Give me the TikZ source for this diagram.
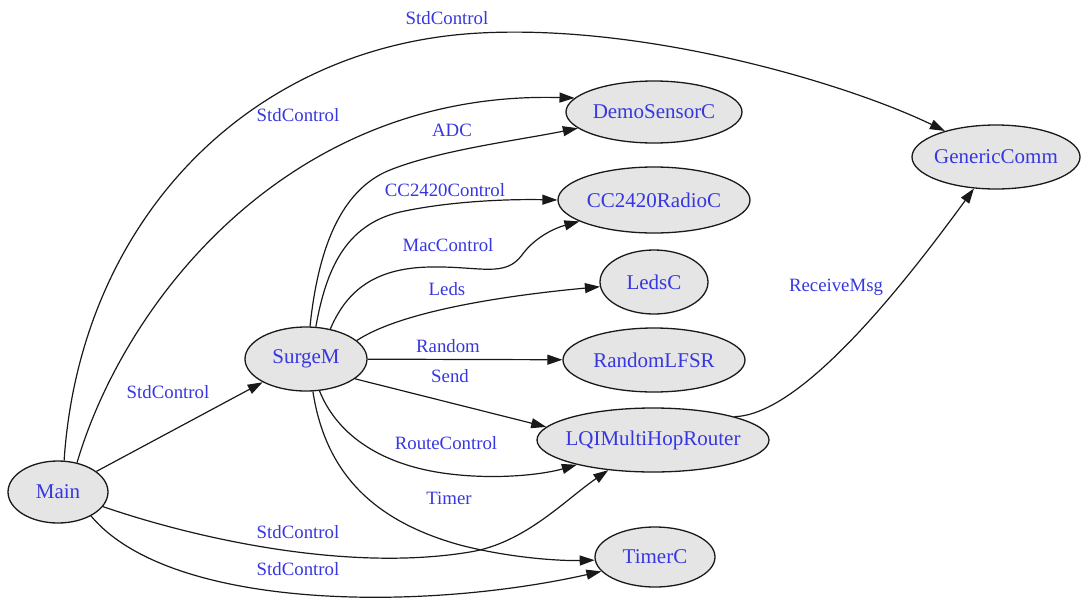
\documentclass[tikz,border=0pt]{standalone}
\usepackage{fontspec}
\setmainfont{Liberation Serif}
\usetikzlibrary{shapes.geometric,arrows.meta}
\definecolor{lblblue}{RGB}{55,55,225}
\definecolor{nodefill}{RGB}{229,229,229}
\definecolor{edgeink}{RGB}{25,25,25}
% zero-width box so long names never enlarge the ellipse
\newcommand{\nodetxt}[1]{\makebox[0pt]{#1}}

\begin{document}
\begin{tikzpicture}[x=1pt,y=-1pt,
  comp/.style={ellipse, draw=edgeink, line width=1.3pt, fill=nodefill,
    inner sep=0pt, text=lblblue, font=\fontsize{21}{24}\selectfont},
  iface/.style={text=lblblue, font=\fontsize{18.8}{22}\selectfont, inner sep=0pt},
  wire/.style={draw=edgeink, line width=1.2pt, -{Triangle[length=15pt,width=10pt]}},
]
\useasboundingbox (0,0) rectangle (1082,600);

% components
\node[comp, minimum width=100pt, minimum height=62pt] (main)  at (58,492)  {\nodetxt{Main}};
\node[comp, minimum width=122pt, minimum height=64pt] (surge) at (306,359) {\nodetxt{SurgeM}};
\node[comp, minimum width=176pt, minimum height=62pt] (demo)  at (654,112) {\nodetxt{DemoSensorC}};
\node[comp, minimum width=192pt, minimum height=66pt] (cc)    at (654,200) {\nodetxt{CC2420RadioC}};
\node[comp, minimum width=108pt, minimum height=64pt] (leds)  at (654,282) {\nodetxt{LedsC}};
\node[comp, minimum width=182pt, minimum height=64pt] (rlfsr) at (654,360) {\nodetxt{RandomLFSR}};
\node[comp, minimum width=232pt, minimum height=64pt] (lqi)   at (653,440) {\nodetxt{LQIMultiHopRouter}};
\node[comp, minimum width=120pt, minimum height=60pt] (timer) at (655,557) {\nodetxt{TimerC}};
\node[comp, minimum width=168pt, minimum height=64pt] (gc)    at (996,157) {\nodetxt{GenericComm}};

% interface wiring
\draw[wire] (main.79) .. controls (80,220) and (250,45) .. (480,33)
            .. controls (650,24) and (850,85) .. (gc.153);
\draw[wire] (main.57) .. controls (125,300) and (290,90) .. (demo.170);
\draw[wire] (main) -- (surge);
\draw[wire] (main.342) .. controls (200,540) and (350,572) .. (470,552)
            .. controls (525,543) and (565,500) .. (lqi.214);
\draw[wire] (main.324) .. controls (170,610) and (420,612) .. (timer.195);

\draw[wire] (surge.83) .. controls (318,250) and (340,190) .. (390,170)
            .. controls (440,150) and (520,140) .. (demo.192);
\draw[wire] (surge.73) .. controls (326,270) and (345,225) .. (400,212)
            .. controls (450,201) and (510,199) .. (cc.west);
\draw[wire] (surge.51) .. controls (345,295) and (370,268) .. (430,267)
            .. controls (480,266) and (505,278) .. (522,255)
            .. controls (535,237) and (555,228) .. (cc.196);
\draw[wire] (surge.20) .. controls (400,312) and (500,296) .. (leds.185);
\draw[wire] (surge) -- (rlfsr);
\draw[wire] (surge.338) -- (lqi.173);
\draw[wire] (surge.293) .. controls (335,430) and (375,465) .. (450,474)
            .. controls (500,480) and (545,474) .. (lqi.198);
\draw[wire] (surge.282) .. controls (325,470) and (370,520) .. (460,545)
            .. controls (510,558) and (560,561) .. (timer.183);

\draw[wire] (lqi.16) .. controls (800,415) and (900,290) .. (gc.235);

% interface names
\node[iface] (n1)  at (447,18)  {StdControl};
\node[iface] (n2)  at (298,115) {StdControl};
\node[iface] (n3)  at (452,130) {ADC};
\node[iface] (n4)  at (445,190) {CC2420Control};
\node[iface] (n5)  at (448,245) {MacControl};
\node[iface] (n6)  at (447,289) {Leds};
\node[iface] (n7)  at (448,346) {Random};
\node[iface] (n8)  at (450,376) {Send};
\node[iface] (n9)  at (168,392) {StdControl};
\node[iface] (n10) at (446,443) {RouteControl};
\node[iface] (n11) at (449,498) {Timer};
\node[iface] (n12) at (298,532) {StdControl};
\node[iface] (n13) at (298,569) {StdControl};
\node[iface] (n14) at (836,287) {ReceiveMsg};
\end{tikzpicture}
\end{document}
